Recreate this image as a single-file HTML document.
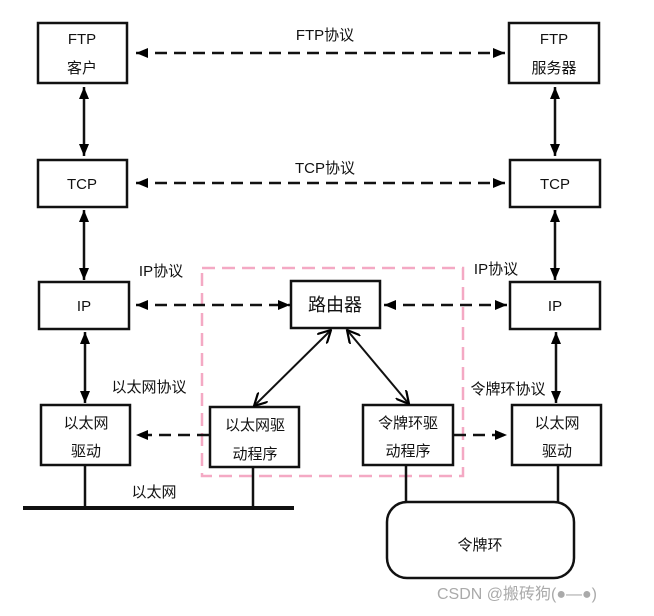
<!DOCTYPE html>
<html><head><meta charset="utf-8"><style>
html,body{margin:0;padding:0;background:#fff;}
svg text{font-family:"Liberation Sans","Noto Sans CJK SC",sans-serif;fill:#111;}
</style></head><body>
<svg width="654" height="611" viewBox="0 0 654 611" xmlns="http://www.w3.org/2000/svg">
<defs>
<marker id="a" viewBox="0 0 12 10" refX="12" refY="5" markerWidth="13" markerHeight="10" orient="auto-start-reverse" markerUnits="userSpaceOnUse"><path d="M0,0L12,5L0,10z" fill="#000"/></marker>
<marker id="b" viewBox="0 0 14 14" refX="13" refY="7" markerWidth="14" markerHeight="14" orient="auto-start-reverse" markerUnits="userSpaceOnUse"><path d="M0,0L13,7L0,14" fill="none" stroke="#000" stroke-width="2.2"/></marker>
</defs>
<g fill="none" stroke="#111" stroke-width="2.5">
<rect x="38" y="23" width="89" height="60"/>
<rect x="509" y="23" width="90" height="60"/>
<rect x="38" y="160" width="89" height="47"/>
<rect x="510" y="160" width="90" height="47"/>
<rect x="39" y="282" width="90" height="47"/>
<rect x="291" y="281" width="89" height="47"/>
<rect x="510" y="282" width="90" height="47"/>
<rect x="41" y="405" width="89" height="60"/>
<rect x="210" y="407" width="89" height="60"/>
<rect x="363" y="405" width="90" height="60"/>
<rect x="512" y="405" width="89" height="60"/>
<rect x="387" y="502" width="187" height="76" rx="20"/>
</g>
<rect x="202" y="268" width="261" height="208" fill="none" stroke="#f4a9c4" stroke-width="2.5" stroke-dasharray="13,7"/>
<g stroke="#111" stroke-width="2.5">
<line x1="85" y1="465" x2="85" y2="508"/>
<line x1="253" y1="467" x2="253" y2="508"/>
<line x1="23" y1="508" x2="294" y2="508" stroke-width="4"/>
<line x1="406" y1="465" x2="406" y2="502"/>
<line x1="558" y1="465" x2="558" y2="502"/>
</g>
<g stroke="#111" stroke-width="2.5" marker-start="url(#a)" marker-end="url(#a)">
<line x1="84" y1="87" x2="84" y2="156"/>
<line x1="555" y1="87" x2="555" y2="156"/>
<line x1="84" y1="210" x2="84" y2="280"/>
<line x1="555" y1="210" x2="555" y2="280"/>
<line x1="85" y1="332" x2="85" y2="403"/>
<line x1="556" y1="332" x2="556" y2="403"/>
</g>
<g stroke="#111" stroke-width="2.5" stroke-dasharray="12,7" marker-start="url(#a)" marker-end="url(#a)">
<line x1="136" y1="53" x2="505" y2="53"/>
<line x1="136" y1="183" x2="505" y2="183"/>
<line x1="136" y1="305" x2="290" y2="305"/>
<line x1="384" y1="305" x2="507" y2="305"/>
</g>
<g stroke="#111" stroke-width="2.5" stroke-dasharray="12,7" marker-end="url(#a)">
<line x1="209" y1="435" x2="136" y2="435"/>
<line x1="454" y1="435" x2="507" y2="435"/>
</g>
<g stroke="#111" stroke-width="2" marker-start="url(#b)" marker-end="url(#b)">
<line x1="331" y1="330" x2="254" y2="406"/>
<line x1="347" y1="330" x2="409" y2="404"/>
</g>
<g font-size="15" text-anchor="middle">
<text x="82" y="44">FTP</text><text x="82" y="73">客户</text>
<text x="554" y="44">FTP</text><text x="554" y="73">服务器</text>
<text x="82" y="189">TCP</text><text x="555" y="189">TCP</text>
<text x="84" y="311">IP</text><text x="555" y="311">IP</text>
<text x="335" y="311" font-size="18">路由器</text>
<text x="86" y="428">以太网</text><text x="86" y="456">驱动</text>
<text x="255" y="430">以太网驱</text><text x="255" y="459">动程序</text>
<text x="408" y="428">令牌环驱</text><text x="408" y="456">动程序</text>
<text x="557" y="428">以太网</text><text x="557" y="456">驱动</text>
<text x="480" y="550">令牌环</text>
<text x="325" y="40">FTP协议</text>
<text x="325" y="173">TCP协议</text>
<text x="161" y="276">IP协议</text>
<text x="496" y="274">IP协议</text>
<text x="149" y="392">以太网协议</text>
<text x="508" y="394">令牌环协议</text>
<text x="154" y="497">以太网</text>
</g>
<text x="437" y="599" font-size="16" style="fill:#aaa">CSDN @搬砖狗(●—●)</text>
</svg>
</body></html>
